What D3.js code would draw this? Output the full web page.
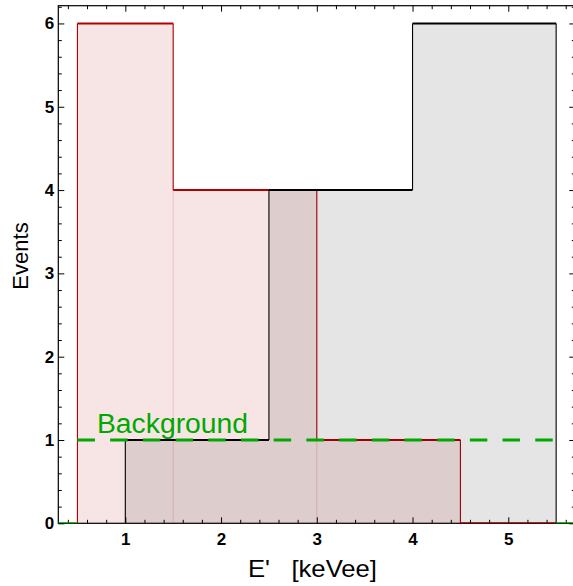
<!DOCTYPE html>
<html>
<head>
<meta charset="utf-8">
<script src="https://cdn.jsdelivr.net/npm/d3@7"></script>
<style>
  html, body { margin: 0; padding: 0; background: #fff; }
  svg { display: block; }
</style>
</head>
<body>
<svg id="chart" width="573" height="586"></svg>
<script>
// ---- data ----
const redEdges = [0.5, 1.5, 3, 4.5, 5.5];
const redCounts = [6, 4, 1, 0];
const blackEdges = [1, 2.5, 4, 5.5];
const blackCounts = [1, 4, 6];
const backgroundLevel = 1;
const backgroundRange = [0.5, 5.5];
const xTicks = [1, 2, 3, 4, 5];
const yTicks = [0, 1, 2, 3, 4, 5, 6];
const xLabel = "E'   [keVee]";
const yLabel = "Events";
const bgLabel = "Background";

// ---- layout ----
const svg = d3.select("#chart");
const x = d3.scaleLinear().domain([0.3, 5.7]).range([58.3, 575.3]);
const y = d3.scaleLinear().domain([0, 6.213]).range([523.3, 5.7]);
const RED = "#b30000", BLACK = "#000", GREEN = "#00a800";
const [x0, x1] = x.range(), [y0, y1] = y.range();

svg.append("defs").append("clipPath").attr("id", "plot")
  .append("rect").attr("x", x0).attr("y", y1).attr("width", x1 - x0).attr("height", y0 - y1);

function histogram(edges, counts, color, edgeOpacity) {
  const g = svg.append("g").attr("clip-path", "url(#plot)");
  const bars = counts.map((c, i) => ({ a: edges[i], b: edges[i + 1], c }));
  g.selectAll("rect").data(bars).join("rect")
    .attr("x", d => x(d.a)).attr("y", d => y(d.c))
    .attr("width", d => x(d.b) - x(d.a)).attr("height", d => y(0) - y(d.c))
    .attr("fill", color).attr("fill-opacity", 0.1)
    .attr("stroke", color).attr("stroke-opacity", edgeOpacity).attr("stroke-width", 1);
  const verts = [];
  for (let i = 0; i < edges.length; i++) {
    const prev = i === 0 ? 0 : counts[i - 1];
    const next = i === counts.length ? 0 : counts[i];
    if (prev !== next) verts.push({ xv: edges[i], ya: prev, yb: next });
  }
  g.selectAll("line.v").data(verts).join("line").attr("class", "v")
    .attr("x1", d => x(d.xv)).attr("x2", d => x(d.xv))
    .attr("y1", d => y(d.ya)).attr("y2", d => y(d.yb))
    .attr("stroke", color).attr("stroke-width", 1.1);
  g.selectAll("line.h").data(bars).join("line").attr("class", "h")
    .attr("x1", d => x(d.a)).attr("x2", d => x(d.b))
    .attr("y1", d => y(d.c)).attr("y2", d => y(d.c))
    .attr("stroke", color).attr("stroke-width", 2);
}

// ---- frame & axes ----
const minorX = d3.range(0.4, 5.7, 0.2).filter(v => Math.abs(v - Math.round(v)) > 1e-6);
const minorY = d3.range(0.2, 6.21, 0.2).filter(v => Math.abs(v - Math.round(v)) > 1e-6);
const tickFont = "bold 17px 'Liberation Sans', Arial, sans-serif";

function styleAxis(g) {
  g.select(".domain").remove();
  g.selectAll(".tick line").attr("stroke", "#000").attr("stroke-width", 1);
  g.selectAll("text").style("font", tickFont).attr("fill", "#000");
}
svg.append("g").attr("transform", `translate(0,${y0})`)
  .call(d3.axisBottom(x).tickValues(xTicks).tickFormat(d3.format("d")).tickSizeInner(-6).tickSizeOuter(0).tickPadding(9.5)).call(styleAxis);
svg.append("g").attr("transform", `translate(0,${y0})`)
  .call(d3.axisBottom(x).tickValues(minorX).tickFormat("").tickSizeInner(-3.5).tickSizeOuter(0)).call(styleAxis);
svg.append("g").attr("transform", `translate(0,${y1})`)
  .call(d3.axisTop(x).tickValues(xTicks).tickFormat("").tickSizeInner(-6).tickSizeOuter(0)).call(styleAxis);
svg.append("g").attr("transform", `translate(0,${y1})`)
  .call(d3.axisTop(x).tickValues(minorX).tickFormat("").tickSizeInner(-3.5).tickSizeOuter(0)).call(styleAxis);
svg.append("g").attr("transform", `translate(${x0},0)`)
  .call(d3.axisLeft(y).tickValues(yTicks).tickFormat(d3.format("d")).tickSizeInner(-6).tickSizeOuter(0).tickPadding(4)).call(styleAxis);
svg.append("g").attr("transform", `translate(${x0},0)`)
  .call(d3.axisLeft(y).tickValues(minorY).tickFormat("").tickSizeInner(-3.5).tickSizeOuter(0)).call(styleAxis);
svg.append("g").attr("transform", `translate(${x1},0)`)
  .call(d3.axisRight(y).tickValues(yTicks).tickFormat("").tickSizeInner(-6).tickSizeOuter(0)).call(styleAxis);
svg.append("g").attr("transform", `translate(${x1},0)`)
  .call(d3.axisRight(y).tickValues(minorY).tickFormat("").tickSizeInner(-3.5).tickSizeOuter(0)).call(styleAxis);

svg.append("rect").attr("x", x0).attr("y", y1).attr("width", x1 - x0).attr("height", y0 - y1)
  .attr("fill", "none").attr("stroke", "#000").attr("stroke-width", 1.2);

// ---- histograms ----
histogram(redEdges, redCounts, RED, 0.08);
histogram(blackEdges, blackCounts, BLACK, 0.0);

// ---- background ----
const gb = svg.append("g").attr("clip-path", "url(#plot)");
gb.append("line")
  .attr("x1", x(backgroundRange[0])).attr("x2", x(backgroundRange[1]))
  .attr("y1", y(backgroundLevel)).attr("y2", y(backgroundLevel))
  .attr("stroke", GREEN).attr("stroke-width", 3).attr("stroke-dasharray", "17.5,15.2");
gb.append("line")
  .attr("x1", x(0.3)).attr("x2", x(backgroundRange[0]))
  .attr("y1", y(0)).attr("y2", y(0))
  .attr("stroke", GREEN).attr("stroke-width", 2);
gb.append("line")
  .attr("x1", x(backgroundRange[1])).attr("x2", x(5.7))
  .attr("y1", y(0)).attr("y2", y(0))
  .attr("stroke", GREEN).attr("stroke-width", 2);

svg.append("text").attr("x", 97).attr("y", 433)
  .attr("textLength", 151).attr("lengthAdjust", "spacingAndGlyphs")
  .style("font", "27px 'Liberation Sans', Arial, sans-serif").attr("fill", GREEN).text(bgLabel);

// ---- titles ----
svg.append("text").attr("x", 248).attr("y", 577)
  .attr("textLength", 129).attr("lengthAdjust", "spacingAndGlyphs")
  .style("font", "24px 'Liberation Sans', Arial, sans-serif").style("white-space", "pre")
  .attr("xml:space", "preserve").text(xLabel);
svg.append("text").attr("transform", "translate(28,256) rotate(-90)").attr("text-anchor", "middle")
  .style("font", "22px 'Liberation Sans', Arial, sans-serif").text(yLabel);
</script>
</body>
</html>
